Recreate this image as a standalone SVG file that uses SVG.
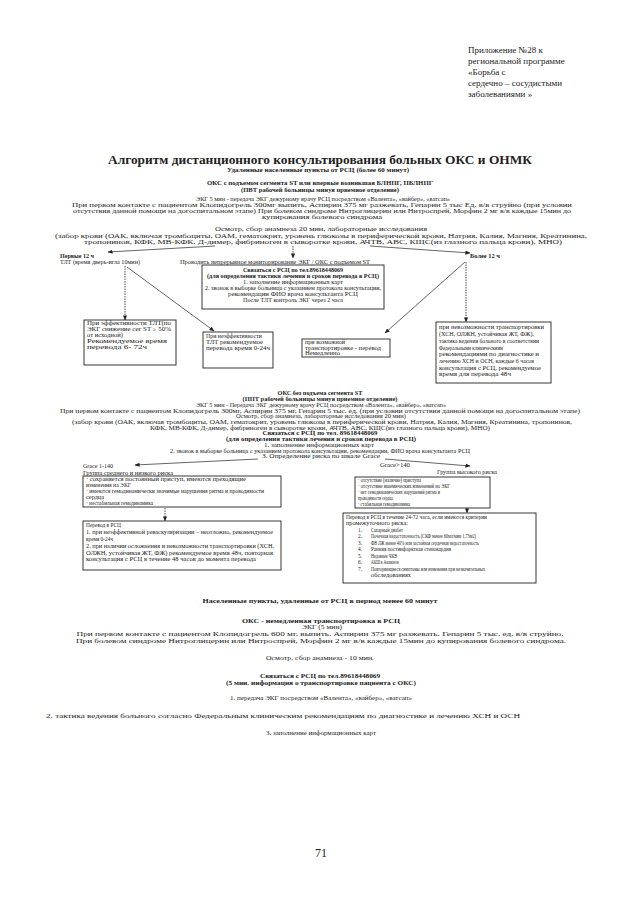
<svg xmlns="http://www.w3.org/2000/svg" width="640" height="905" viewBox="0 0 640 905">
<style>
text{font-family:"Liberation Serif","Times New Roman",serif;fill:#222}
.s{font-size:5.4px}
.b{font-weight:bold}
.m{text-anchor:middle}
.h{font-size:9px}
.box{fill:none;stroke:#222;stroke-width:0.9}
.ln{stroke:#222;stroke-width:0.7;fill:none}
.dl{stroke:#222;stroke-width:0.8;stroke-dasharray:1.5 1;fill:none}
</style>
<defs>
<marker id="ah" viewBox="0 0 6 6" refX="5.5" refY="3" markerWidth="5" markerHeight="5" orient="auto" markerUnits="userSpaceOnUse"><path d="M0,0.5 L6,3 L0,5.5 z" fill="#222"/></marker>
</defs>
<rect width="640" height="905" fill="#fff"/>

<g id="header">
<text class="h" x="468" y="53">Приложение №28 к</text>
<text class="h" x="468" y="64">региональной программе</text>
<text class="h" x="468" y="75">«Борьба с</text>
<text class="h" x="468" y="86">сердечно – сосудистыми</text>
<text class="h" x="468" y="97">заболеваниями »</text>
</g>

<g id="title">
<text class="b m" x="320" y="164" font-size="13" textLength="424" lengthAdjust="spacingAndGlyphs">Алгоритм дистанционного консультирования больных ОКС и ОНМК</text>
<text class="s b m" x="318" y="172" textLength="182" lengthAdjust="spacingAndGlyphs">Удаленные населенные пункты от РСЦ (более 60 минут)</text>
</g>

<g id="sec1-text">
<text class="s b m" x="320" y="185" textLength="226" lengthAdjust="spacingAndGlyphs">ОКС с подъемом сегмента ST или впервые возникшая БЛНПГ, ПБЛНПГ</text>
<text class="s b m" x="320" y="192" textLength="158" lengthAdjust="spacingAndGlyphs">(ПВТ рабочей больницы минуя приемное отделение)</text>
<text class="s m" x="323" y="201" textLength="254" lengthAdjust="spacingAndGlyphs">ЭКГ 5 мин - передача ЭКГ дежурному врачу РСЦ посредством «Валента», «вайбер», «ватсап»</text>
<text class="s m" x="322" y="207" textLength="500" lengthAdjust="spacingAndGlyphs">При первом контакте с пациентом Клопидогрель 300мг выпить, Аспирин 375 мг разжевать, Гепарин 5 тыс Ед. в/в струйно (при условии</text>
<text class="s m" x="322" y="213" textLength="498" lengthAdjust="spacingAndGlyphs">отсутствия данной помощи на догоспитальном этапе) При болевом синдроме Нитроглицерин или Нитроспрей, Морфин 2 мг в/в каждые 15мин до</text>
<text class="s m" x="322" y="219" textLength="120" lengthAdjust="spacingAndGlyphs">купирования болевого синдрома</text>
<text class="s m" x="321" y="231" textLength="212" lengthAdjust="spacingAndGlyphs">Осмотр, сбор анамнеза 20 мин, лабораторные исследования</text>
<text class="s m" x="321" y="238" textLength="532" lengthAdjust="spacingAndGlyphs">(забор крови (ОАК, включая тромбоциты, ОАМ, гематокрит, уровень глюкозы в периферической крови, Натрия, Калия, Магния, Креатинина,</text>
<text class="s m" x="323" y="244" textLength="478" lengthAdjust="spacingAndGlyphs">тропонинов, КФК, МВ-КФК, Д-димер, фибриноген в сыворотке крови, АЧТВ, АВС, КЩС(из глазного пальца крови), МНО)</text>
<text class="s b" x="60" y="258" textLength="34" lengthAdjust="spacingAndGlyphs">Первые 12 ч</text>
<text class="s" x="60" y="264" textLength="80" lengthAdjust="spacingAndGlyphs">ТЛТ (время дверь-игла 10мин)</text>
<text class="s" x="180" y="264" textLength="190" lengthAdjust="spacingAndGlyphs">Проводить непрерывное мониторирование ЭКГ / ОКС с подъемом ST</text>
<text class="s b" x="470" y="258" textLength="30" lengthAdjust="spacingAndGlyphs">Более 12 ч</text>
</g>

<g id="node-center">
<rect class="box" x="202" y="265" width="182" height="44"/>
<text class="s b m" x="293" y="272" textLength="100" lengthAdjust="spacingAndGlyphs">Связаться с РСЦ по тел.89618448069</text>
<text class="s b m" x="293" y="278" textLength="172" lengthAdjust="spacingAndGlyphs">(для определения тактики лечения и сроков перевода в РСЦ)</text>
<text class="s m" x="293" y="284" textLength="100" lengthAdjust="spacingAndGlyphs">1. заполнение информационных карт</text>
<text class="s m" x="293" y="290" textLength="176" lengthAdjust="spacingAndGlyphs">2. звонок в выборке больница с указанием протокола консультации,</text>
<text class="s m" x="293" y="296" textLength="130" lengthAdjust="spacingAndGlyphs">рекомендации ФИО врача консультанта РСЦ</text>
<text class="s m" x="293" y="302" textLength="100" lengthAdjust="spacingAndGlyphs">После ТЛТ контроль ЭКГ через 2 часа</text>
</g>

<g id="node-tlt-ok">
<rect class="box" x="84" y="320" width="92" height="45"/>
<text class="s" x="87" y="325" textLength="84" lengthAdjust="spacingAndGlyphs">При эффективности  ТЛТ(по</text>
<text class="s" x="87" y="331" textLength="84" lengthAdjust="spacingAndGlyphs">ЭКГ снижение сег ST ≥ 50%</text>
<text class="s" x="87" y="337" textLength="36" lengthAdjust="spacingAndGlyphs">от исходной)</text>
<text class="s" x="87" y="343" textLength="80" lengthAdjust="spacingAndGlyphs">Рекомендуемое время</text>
<text class="s" x="87" y="349" textLength="60" lengthAdjust="spacingAndGlyphs">перевода 6- 72ч</text>
</g>

<g id="node-tlt-fail">
<rect class="box" x="203" y="332" width="70" height="36"/>
<text class="s" x="206" y="338" textLength="56" lengthAdjust="spacingAndGlyphs">При неэффективности</text>
<text class="s" x="206" y="344" textLength="57" lengthAdjust="spacingAndGlyphs">ТЛТ рекомендуемое</text>
<text class="s" x="206" y="350" textLength="64" lengthAdjust="spacingAndGlyphs">перевода время 0-24ч</text>
</g>

<g id="node-transport">
<rect class="box" x="302" y="339" width="88" height="18"/>
<text class="s" x="305" y="344" textLength="40" lengthAdjust="spacingAndGlyphs">при возможной</text>
<text class="s" x="305" y="349.5" textLength="76" lengthAdjust="spacingAndGlyphs">транспортировке - перевод</text>
<text class="s" x="305" y="355" textLength="35" lengthAdjust="spacingAndGlyphs">Немедленно</text>
</g>

<g id="node-no-transport">
<rect class="box" x="436" y="322" width="115" height="61"/>
<text class="s" x="439" y="329" textLength="105" lengthAdjust="spacingAndGlyphs">при невозможности транспортировки</text>
<text class="s" x="439" y="336" textLength="95" lengthAdjust="spacingAndGlyphs">(ХСН, ОЛЖН, устойчивая ЖТ, ФЖ),</text>
<text class="s" x="439" y="343" textLength="100" lengthAdjust="spacingAndGlyphs">тактика ведения больного в соответствии</text>
<text class="s" x="439" y="349.5" textLength="64" lengthAdjust="spacingAndGlyphs">Федеральными клиническими</text>
<text class="s" x="439" y="356" textLength="100" lengthAdjust="spacingAndGlyphs">рекомендациями по диагностике и</text>
<text class="s" x="439" y="363" textLength="95" lengthAdjust="spacingAndGlyphs">лечению ХСН и ОСН, каждые 6 часов</text>
<text class="s" x="439" y="369.5" textLength="102" lengthAdjust="spacingAndGlyphs">консультация с РСЦ, рекомендуемое</text>
<text class="s" x="439" y="376" textLength="72" lengthAdjust="spacingAndGlyphs">время для перевода 48ч</text>
</g>

<g id="sec2-text">
<text class="s b m" x="320" y="395" textLength="85" lengthAdjust="spacingAndGlyphs">ОКС без подъема сегмента ST</text>
<text class="s b m" x="320" y="401" textLength="155" lengthAdjust="spacingAndGlyphs">(ППТ рабочей больницы минуя приемное отделение)</text>
<text class="s m" x="321" y="407" textLength="250" lengthAdjust="spacingAndGlyphs">ЭКГ 5 мин - Передача ЭКГ дежурному врачу РСЦ посредством «Валента», «вайбер», «ватсап»</text>
<text class="s m" x="320" y="412.5" textLength="520" lengthAdjust="spacingAndGlyphs">При первом контакте с пациентом Клопидогрель 300мг, Аспирин 375 мг, Гепарин 5 тыс. ед. (при условии отсутствия данной помощи на догоспитальном этапе)</text>
<text class="s m" x="321" y="418" textLength="170" lengthAdjust="spacingAndGlyphs">Осмотр, сбор анамнеза, лабораторные исследования 20 мин)</text>
<text class="s m" x="322" y="424" textLength="500" lengthAdjust="spacingAndGlyphs">(забор крови (ОАК, включая тромбоциты, ОАМ, гематокрит, уровень глюкозы в периферической крови, Натрия, Калия, Магния, Креатинина, тропонинов,</text>
<text class="s m" x="320" y="429.5" textLength="340" lengthAdjust="spacingAndGlyphs">КФК, МВ-КФК, Д-димер, фибриноген в сыворотке крови, АЧТВ, АВС, КЩС(из глазного пальца крови), МНО)</text>
<text class="s b m" x="320" y="435" textLength="115" lengthAdjust="spacingAndGlyphs">Связаться с РСЦ по тел. 89618448069</text>
<text class="s b m" x="321" y="441" textLength="190" lengthAdjust="spacingAndGlyphs">(для определения тактики лечения и сроков перевода в РСЦ)</text>
<text class="s m" x="319" y="447" textLength="110" lengthAdjust="spacingAndGlyphs">1. заполнение информационных карт</text>
<text class="s m" x="320" y="452.5" textLength="300" lengthAdjust="spacingAndGlyphs">2. звонок в выборке больница с указанием протокола консультации, рекомендации, ФИО врача консультанта РСЦ</text>
<text class="s m" x="321" y="458" textLength="118" lengthAdjust="spacingAndGlyphs">3. Определение риска по шкале Grace</text>
<text class="s" x="83" y="468" textLength="30" lengthAdjust="spacingAndGlyphs">Grace 1-140</text>
<text class="s" x="83" y="474.5" textLength="90" lengthAdjust="spacingAndGlyphs">Группа среднего и низкого риска</text>
<text class="s" x="380" y="467" textLength="30" lengthAdjust="spacingAndGlyphs">Grace&gt;140</text>
<text class="s m" x="467" y="474" textLength="60" lengthAdjust="spacingAndGlyphs">Группа высокого риска</text>
</g>

<g id="node-low-risk">
<rect class="box" x="83" y="476" width="198" height="31"/>
<text class="s" x="86" y="481" textLength="160" lengthAdjust="spacingAndGlyphs">· сохраняется постоянный приступ, имеются преходящие</text>
<text class="s" x="86" y="487" textLength="45" lengthAdjust="spacingAndGlyphs">изменения на ЭКГ</text>
<text class="s" x="86" y="493" textLength="178" lengthAdjust="spacingAndGlyphs">· имеются гемодинамически значимые нарушения ритма и проводимости</text>
<text class="s" x="86" y="499" textLength="18" lengthAdjust="spacingAndGlyphs">сердца</text>
<text class="s" x="86" y="505" textLength="67" lengthAdjust="spacingAndGlyphs">· нестабильная гемодинамика</text>
</g>

<g id="node-low-transfer">
<rect class="box" x="83" y="521" width="198" height="49"/>
<text class="s" x="86" y="527" textLength="35" lengthAdjust="spacingAndGlyphs">Перевод в РСЦ</text>
<text class="s" x="86" y="534" textLength="187" lengthAdjust="spacingAndGlyphs">1. при неэффективной реваскуляризации – неотложно, рекомендуемое</text>
<text class="s" x="86" y="541" textLength="27" lengthAdjust="spacingAndGlyphs">время 0-24ч</text>
<text class="s" x="86" y="548" textLength="188" lengthAdjust="spacingAndGlyphs">2. при наличии осложнения и невозможности транспортировки (ХСН,</text>
<text class="s" x="86" y="554.5" textLength="187" lengthAdjust="spacingAndGlyphs">ОЛЖН, устойчивая ЖТ, ФЖ) рекомендуемое время 48ч, повторная</text>
<text class="s" x="86" y="561" textLength="170" lengthAdjust="spacingAndGlyphs">консультация с РСЦ в течение 48 часов до момента перевода</text>
</g>

<g id="node-high-risk">
<rect class="box" x="355" y="477" width="135" height="31"/>
<text class="s" x="358" y="482" textLength="63" lengthAdjust="spacingAndGlyphs">· отсутствие (наличие) приступа</text>
<text class="s" x="358" y="488" textLength="92" lengthAdjust="spacingAndGlyphs">· отсутствие ишемических изменений на ЭКГ</text>
<text class="s" x="358" y="494" textLength="82" lengthAdjust="spacingAndGlyphs">· нет гемодинамических нарушений ритма и</text>
<text class="s" x="358" y="500" textLength="35" lengthAdjust="spacingAndGlyphs">проводимости сердца</text>
<text class="s" x="358" y="506" textLength="52" lengthAdjust="spacingAndGlyphs">· стабильная гемодинамика</text>
</g>

<g id="node-high-transfer">
<rect class="box" x="343" y="513" width="193" height="70"/>
<text class="s" x="346" y="519" textLength="141" lengthAdjust="spacingAndGlyphs">Перевод в РСЦ в течение 24-72 часа, если имеются критерии</text>
<text class="s" x="346" y="525" textLength="62" lengthAdjust="spacingAndGlyphs">промежуточного риска:</text>
<text class="s" x="358" y="531.5">1.</text><text class="s" x="371" y="531.5" textLength="32" lengthAdjust="spacingAndGlyphs">Сахарный диабет</text>
<text class="s" x="358" y="538">2.</text><text class="s" x="371" y="538" textLength="105" lengthAdjust="spacingAndGlyphs">Почечная недостаточность (СКФ менее 60мл/мин 1,73м2)</text>
<text class="s" x="358" y="544.5">3.</text><text class="s" x="371" y="544.5" textLength="108" lengthAdjust="spacingAndGlyphs">ФВ ЛЖ менее 40% или застойная сердечная недостаточность</text>
<text class="s" x="358" y="551">4.</text><text class="s" x="371" y="551" textLength="80" lengthAdjust="spacingAndGlyphs">Ранняя постинфарктная стенокардия</text>
<text class="s" x="358" y="557.5">5.</text><text class="s" x="371" y="557.5" textLength="26" lengthAdjust="spacingAndGlyphs">Недавнее ЧКВ</text>
<text class="s" x="358" y="564">6.</text><text class="s" x="371" y="564" textLength="28" lengthAdjust="spacingAndGlyphs">АКШ в Анамнезе</text>
<text class="s" x="358" y="570.5">7.</text><text class="s" x="371" y="570.5" textLength="114" lengthAdjust="spacingAndGlyphs">Повторяющиеся симптомы или изменения при незначительных</text>
<text class="s" x="371" y="577" textLength="40" lengthAdjust="spacingAndGlyphs">обследованиях</text>
</g>

<g id="sec3-text">
<text class="b m" x="320" y="603" font-size="7" textLength="235" lengthAdjust="spacingAndGlyphs">Населенные пункты, удаленные от РСЦ в период менее 60 минут</text>
<text class="b m" x="321" y="623" font-size="6.5" textLength="158" lengthAdjust="spacingAndGlyphs">ОКС - немедленная транспортировка в РСЦ</text>
<text class="m" x="322" y="629" font-size="6.5" textLength="40" lengthAdjust="spacingAndGlyphs">ЭКГ (5 мин)</text>
<text class="m" x="320" y="636" font-size="6.5" textLength="487" lengthAdjust="spacingAndGlyphs">При первом контакте с пациентом Клопидогрель 600 мг. выпить. Аспирин 375 мг разжевать. Гепарин 5 тыс. ед. в/в струйно.</text>
<text class="m" x="321" y="643" font-size="6.5" textLength="490" lengthAdjust="spacingAndGlyphs">При болевом синдроме Нитроглицерин или Нитроспрей, Морфин 2 мг в/в каждые 15мин до купирования болевого синдрома.</text>
<text class="m" x="320" y="660" font-size="6.5" textLength="108" lengthAdjust="spacingAndGlyphs">Осмотр, сбор анамнеза - 10 мин.</text>
<text class="b m" x="320" y="678" font-size="6.5" textLength="120" lengthAdjust="spacingAndGlyphs">Связаться с РСЦ по тел.89618448069</text>
<text class="b m" x="321" y="685" font-size="6.5" textLength="190" lengthAdjust="spacingAndGlyphs">(5 мин. информация о транспортировке пациента с ОКС)</text>
<text class="m" x="321" y="700" font-size="6.5" textLength="182" lengthAdjust="spacingAndGlyphs">1. передача ЭКГ посредством «Валента», «вайбер», «ватсап»</text>
<text class="m" x="283" y="718" font-size="6.5" textLength="474" lengthAdjust="spacingAndGlyphs">2. тактика ведения больного согласно Федеральным клиническим рекомендациям по диагностике и лечению ХСН и ОСН</text>
<text class="m" x="321" y="735" font-size="6.5" textLength="110" lengthAdjust="spacingAndGlyphs">3. заполнение информационных карт</text>
</g>

<g id="page-number">
<text class="m" x="321" y="857" font-size="12">71</text>
</g>

<g id="connectors">
<line class="ln" x1="215" y1="246" x2="108" y2="252" marker-end="url(#ah)"/>
<line class="dl" x1="293" y1="246" x2="293" y2="258" marker-end="url(#ah)"/>
<line class="ln" x1="370" y1="246" x2="470" y2="253" marker-end="url(#ah)"/>
<line class="dl" x1="125" y1="266" x2="125" y2="320" marker-end="url(#ah)"/>
<line class="ln" x1="127" y1="267" x2="214" y2="331" marker-end="url(#ah)"/>
<line class="ln" x1="465" y1="262" x2="385" y2="333" marker-end="url(#ah)"/>
<line class="dl" x1="466" y1="262" x2="466" y2="322" marker-end="url(#ah)"/>
<line class="ln" x1="258" y1="459" x2="135" y2="465" marker-end="url(#ah)"/>
<line class="ln" x1="385" y1="459" x2="470" y2="466" marker-end="url(#ah)"/>
<line class="dl" x1="165" y1="508" x2="165" y2="521" marker-end="url(#ah)"/>
<line class="dl" x1="467" y1="508" x2="467" y2="513" marker-end="url(#ah)"/>
</g>
</svg>
